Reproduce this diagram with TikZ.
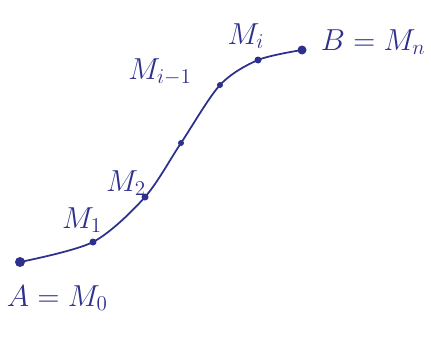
\documentclass[tikz,border=0pt]{standalone}
\usepackage{tikz}
\definecolor{ink}{RGB}{45,48,140}
\begin{document}
\begin{tikzpicture}[x=0.02cm,y=-0.02cm,line width=1pt,color=ink]
\useasboundingbox (0,0) rectangle (431,338);

\coordinate (M0) at (20,262);
\coordinate (M1) at (93,242);
\coordinate (M2) at (145,197);
\coordinate (P2) at (181,143);
\coordinate (Mim) at (220,85);
\coordinate (Mi) at (258,60);
\coordinate (Mn) at (302,50);

\draw plot[smooth, tension=0.5] coordinates {(M0) (M1) (M2) (P2) (Mim) (Mi) (Mn)};

\fill (M0) circle (5);
\fill (M1) circle (3.5);
\fill (M2) circle (3.5);
\fill (P2) circle (3);
\fill (Mim) circle (3);
\fill (Mi) circle (3.5);
\fill (Mn) circle (4.5);

\node[font=\LARGE, anchor=west, inner sep=0] (lA) at (6,298) {$A=M_0$};
\node[font=\LARGE] (l1) at (82,220) {$M_1$};
\node[font=\LARGE] (l2) at (126,183) {$M_2$};
\node[font=\LARGE] (lim) at (160,72) {$M_{i-1}$};
\node[font=\LARGE] (li) at (246,36) {$M_i$};
\node[font=\LARGE, anchor=west, inner sep=0] (lB) at (320,42) {$B=M_n$};

\end{tikzpicture}
\end{document}
